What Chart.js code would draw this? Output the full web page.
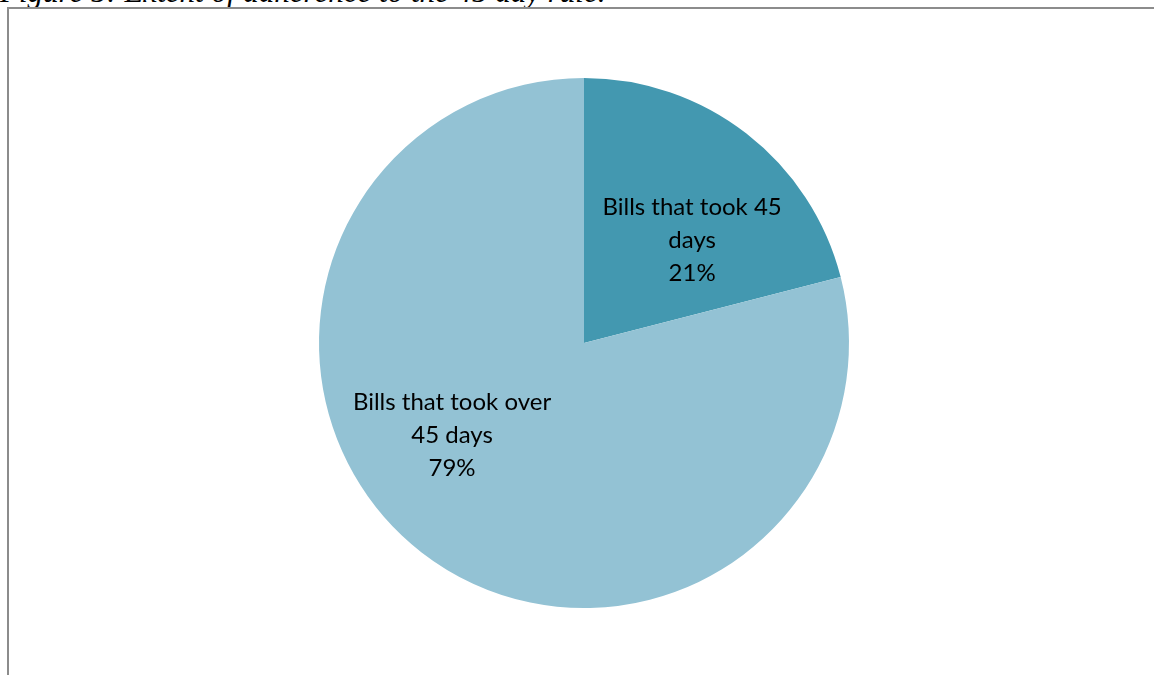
<!DOCTYPE html>
<html>
<head>
<meta charset="utf-8">
<script src="https://cdn.jsdelivr.net/npm/chart.js@4/dist/chart.umd.min.js"></script>
<style>
  html, body { margin: 0; padding: 0; background: #fff; overflow: hidden; }
  #wrap { position: relative; width: 1154px; height: 675px; }
  #caption {
    position: absolute; left: 0px; top: -24px; line-height: 31px;
    font-family: "Liberation Serif", "DejaVu Serif", serif;
    font-style: italic; font-size: 31px; color: #000; white-space: nowrap;
  }
  #frame {
    position: absolute; left: 7px; top: 7px; width: 1160px; height: 680px;
    border-left: 2px solid #8c8c8c; border-top: 2px solid #8c8c8c;
  }
  canvas { position: absolute; left: 0; top: 0; }
</style>
</head>
<body>
<div id="wrap">
  <div id="caption">Figure 5: Extent of adherence to the 45 day rule.</div>
  <div id="frame"></div>
  <canvas id="pie" width="1154" height="675"></canvas>
</div>
<script>
const categories = [['Bills that took 45', 'days'], ['Bills that took over', '45 days']];
const shares = [21, 79];
const sliceColors = ['#4398b0', '#93c2d4'];

// label anchors as fractions of the radius, measured from the pie centre
const labelAnchors = [[0.408, -0.389], [-0.498, 0.347]];

const sliceLabels = {
  id: 'sliceLabels',
  afterDatasetsDraw(chart) {
    const ctx = chart.ctx;
    const meta = chart.getDatasetMeta(0);
    ctx.save();
    ctx.font = '24px Lato, "Open Sans", sans-serif';
    ctx.fillStyle = '#000';
    ctx.textAlign = 'center';
    ctx.textBaseline = 'middle';
    meta.data.forEach((arc, i) => {
      const { x, y, outerRadius } = arc.getProps(['x', 'y', 'outerRadius'], true);
      const cx = x + labelAnchors[i][0] * outerRadius;
      const cy = y + labelAnchors[i][1] * outerRadius;
      const lines = categories[i].concat([shares[i] + '%']);
      const lh = 33;
      lines.forEach((t, k) => {
        ctx.fillText(t, cx, cy + (k - (lines.length - 1) / 2) * lh);
      });
    });
    ctx.restore();
  }
};

new Chart(document.getElementById('pie'), {
  type: 'pie',
  data: {
    labels: categories.map(c => c.join(' ')),
    datasets: [{
      data: shares,
      backgroundColor: sliceColors,
      borderWidth: 0
    }]
  },
  options: {
    responsive: false,
    animation: false,
    layout: { padding: { top: 78, bottom: 67, left: 14, right: 0 } },
    plugins: {
      legend: { display: false },
      tooltip: { enabled: false }
    }
  },
  plugins: [sliceLabels]
});
</script>
</body>
</html>
